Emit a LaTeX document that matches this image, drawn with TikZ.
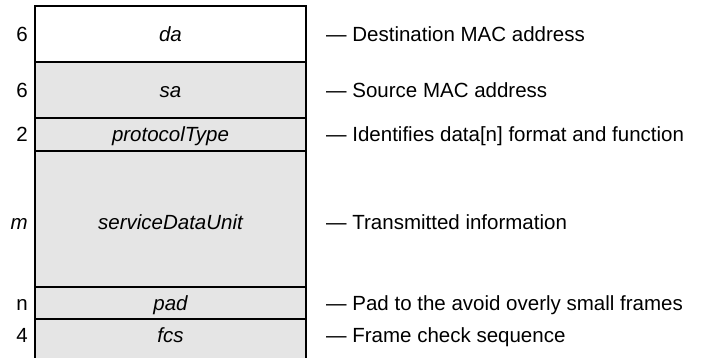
\documentclass[tikz,border=0pt]{standalone}
\usepackage{fontspec}
\setmainfont{Liberation Sans}
\usetikzlibrary{positioning}

\begin{document}
\begin{tikzpicture}[
  x=1pt, y=-1pt,
  every node/.style={font=\fontsize{20.5}{24}\selectfont},
  field/.style={draw=black, line width=1.2pt, fill=gray!20, minimum width=271pt,
    inner sep=0pt, outer sep=0pt, text height=14.5pt, text depth=0pt},
  size/.style={anchor=east, inner sep=0pt, text height=14.5pt, text depth=0pt},
  desc/.style={anchor=west, inner sep=0pt, text height=14.5pt, text depth=0pt}
]
  \useasboundingbox (0,0) rectangle (701,357);

  % fields of the frame
  \node[field, fill=white, minimum height=56pt, anchor=north west] (da) at (35,6) {\itshape da};
  \node[field, minimum height=56pt, below=0pt of da] (sa) {\itshape sa};
  \node[field, minimum height=33pt, below=0pt of sa] (type) {\itshape protocolType};
  \node[field, minimum height=136pt, text height=20.6pt, below=0pt of type] (sdu) {\itshape serviceDataUnit};
  \node[field, minimum height=32pt, below=0pt of sdu] (pad) {\itshape pad};
  \node[field, minimum height=40pt, text depth=8pt, below=0pt of pad] (fcs) {\itshape fcs};

  % field sizes
  \node[size] (s-da) at ([xshift=-7pt]da.west) {6};
  \node[size] (s-sa) at ([xshift=-7pt]sa.west) {6};
  \node[size] (s-type) at ([xshift=-7pt]type.west) {2};
  \node[size] (s-sdu) at ([xshift=-7pt,yshift=-3pt]sdu.west) {\itshape m};
  \node[size] (s-pad) at ([xshift=-7pt]pad.west) {n};
  \node[size] (s-fcs) at ([xshift=-7pt,yshift=4pt]fcs.west) {4};

  % descriptions
  \node[desc] (d-da) at ([xshift=20pt]da.east) {--- Destination MAC address};
  \node[desc] (d-sa) at ([xshift=20pt]sa.east) {--- Source MAC address};
  \node[desc] (d-type) at ([xshift=20pt]type.east) {--- Identifies data[n] format and function};
  \node[desc] (d-sdu) at ([xshift=20pt,yshift=-3pt]sdu.east) {--- Transmitted information};
  \node[desc] (d-pad) at ([xshift=20pt]pad.east) {--- Pad to the avoid overly small frames};
  \node[desc] (d-fcs) at ([xshift=20pt,yshift=4pt]fcs.east) {--- Frame check sequence};
\end{tikzpicture}
\end{document}
